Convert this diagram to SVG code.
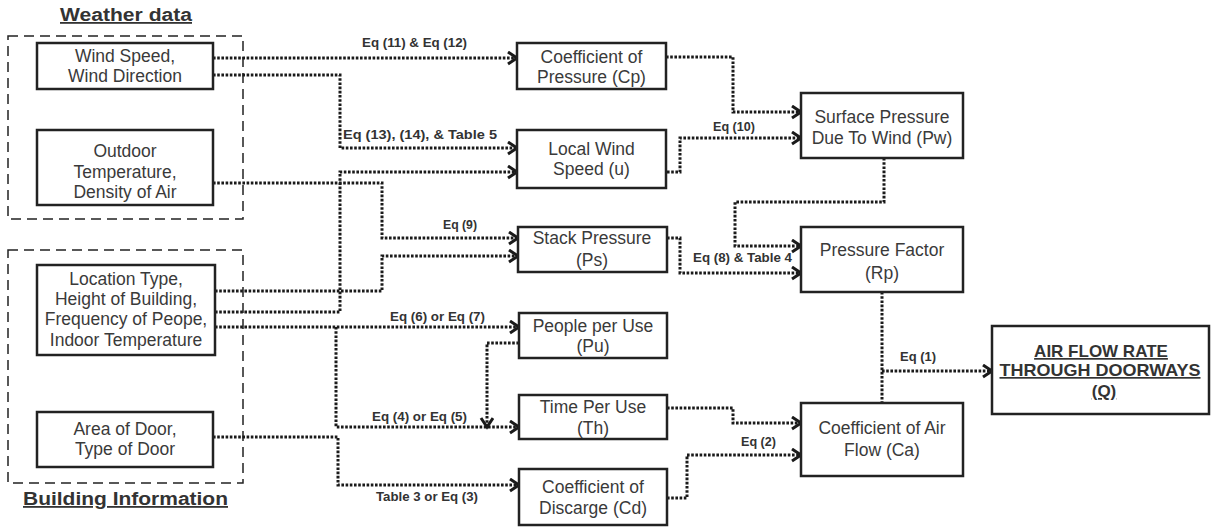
<svg xmlns="http://www.w3.org/2000/svg" width="1212" height="527" viewBox="0 0 1212 527">
<style>
.box{fill:#fff;stroke:#222;stroke-width:2.5}
.grp{fill:none;stroke:#222;stroke-width:1.5;stroke-dasharray:10 6}
.bt{font-family:"Liberation Sans",Arial,sans-serif;font-size:17.5px;fill:#3a3a3a;text-anchor:middle}
.lbl{font-family:"Liberation Sans",Arial,sans-serif;font-size:12px;font-weight:bold;fill:#333}
.ttl{font-family:"Liberation Sans",Arial,sans-serif;font-size:18px;font-weight:bold;fill:#333;text-decoration:underline}
.big{font-family:"Liberation Sans",Arial,sans-serif;font-size:17px;font-weight:bold;fill:#333;text-anchor:middle;text-decoration:underline}
.c{fill:none;stroke:#1a1a1a;stroke-width:3;stroke-dasharray:2.6 1.6}
.ca{fill:none;stroke:#1a1a1a;stroke-width:3;stroke-dasharray:2.6 1.6;marker-end:url(#ar)}
</style>
<defs>
<marker id="ar" markerUnits="userSpaceOnUse" markerWidth="14" markerHeight="16" refX="11" refY="7" orient="auto">
<path d="M2,1 L11,7 L2,13" fill="none" stroke="#1a1a1a" stroke-width="3"/>
</marker>
</defs>
<rect width="1212" height="527" fill="#fff"/>

<g id="weather-group">
<rect class="grp" x="8" y="36" width="235" height="183"/>
<text class="ttl" x="60" y="21" textLength="132" lengthAdjust="spacingAndGlyphs">Weather data</text>
</g>
<g id="building-group">
<rect class="grp" x="8" y="250" width="235" height="233"/>
<text class="ttl" x="23" y="505" textLength="205" lengthAdjust="spacingAndGlyphs">Building Information</text>
</g>

<g id="connectors">
<path class="ca" d="M213,58 H517"/>
<path class="ca" d="M213,75 H340 V148 H517"/>
<path class="ca" d="M213,183 H382 V238 H518"/>
<path class="ca" d="M215,312 H340 V172 H517"/>
<path class="ca" d="M215,291 H382 V256 H518"/>
<path class="ca" d="M215,327 H519"/>
<path class="ca" d="M336,327 V427 H519"/>
<path class="ca" d="M519,343 H487 V427"/>
<path class="ca" d="M213,437 H338 V485 H519"/>
<path class="ca" d="M666,57 H733 V112 H801"/>
<path class="ca" d="M667,172 H680 V138 H801"/>
<path class="ca" d="M667,238 H680 V273 H801"/>
<path class="ca" d="M884,158 V202 H735 V246 H801"/>
<path class="c" d="M882,292 V403"/>
<path class="ca" d="M882,371 H992"/>
<path class="ca" d="M667,408 H733 V423 H801"/>
<path class="ca" d="M667,498 H687 V455 H801"/>
<text class="lbl" x="362" y="47" textLength="105" lengthAdjust="spacingAndGlyphs">Eq (11) &amp; Eq (12)</text>
<text class="lbl" x="343" y="139" textLength="154" lengthAdjust="spacingAndGlyphs">Eq (13), (14), &amp; Table 5</text>
<text class="lbl" x="443" y="229" textLength="34" lengthAdjust="spacingAndGlyphs">Eq (9)</text>
<text class="lbl" x="390" y="321" textLength="95" lengthAdjust="spacingAndGlyphs">Eq (6) or Eq (7)</text>
<text class="lbl" x="372" y="421" textLength="95" lengthAdjust="spacingAndGlyphs">Eq (4) or Eq (5)</text>
<text class="lbl" x="376" y="501" textLength="102" lengthAdjust="spacingAndGlyphs">Table 3 or Eq (3)</text>
<text class="lbl" x="713" y="131" textLength="42" lengthAdjust="spacingAndGlyphs">Eq (10)</text>
<text class="lbl" x="693" y="262" textLength="99" lengthAdjust="spacingAndGlyphs">Eq (8) &amp; Table 4</text>
<text class="lbl" x="741" y="446" textLength="35" lengthAdjust="spacingAndGlyphs">Eq (2)</text>
<text class="lbl" x="900" y="361" textLength="36" lengthAdjust="spacingAndGlyphs">Eq (1)</text>
</g>

<g id="wind">
<rect class="box" x="37" y="43" width="176" height="46"/>
<text class="bt" x="125" y="62">Wind Speed,</text>
<text class="bt" x="125" y="82">Wind Direction</text>
</g>
<g id="outdoor">
<rect class="box" x="37" y="130" width="176" height="75"/>
<text class="bt" x="125" y="157">Outdoor</text>
<text class="bt" x="125" y="178">Temperature,</text>
<text class="bt" x="125" y="198">Density of Air</text>
</g>
<g id="location">
<rect class="box" x="37" y="265" width="178" height="90"/>
<text class="bt" x="126" y="285">Location Type,</text>
<text class="bt" x="126" y="305">Height of Building,</text>
<text class="bt" x="126" y="325">Frequency of Peope,</text>
<text class="bt" x="126" y="346">Indoor Temperature</text>
</g>
<g id="door">
<rect class="box" x="37" y="412" width="176" height="55"/>
<text class="bt" x="125" y="435">Area of Door,</text>
<text class="bt" x="125" y="455">Type of Door</text>
</g>
<g id="cp">
<rect class="box" x="517" y="43" width="149" height="46"/>
<text class="bt" x="591.5" y="63">Coefficient of</text>
<text class="bt" x="591.5" y="83">Pressure (Cp)</text>
</g>
<g id="localwind">
<rect class="box" x="517" y="130" width="149" height="58"/>
<text class="bt" x="591.5" y="155">Local Wind</text>
<text class="bt" x="591.5" y="175">Speed (u)</text>
</g>
<g id="stack">
<rect class="box" x="518" y="227" width="149" height="45"/>
<text class="bt" x="592" y="244">Stack Pressure</text>
<text class="bt" x="592" y="266">(Ps)</text>
</g>
<g id="people">
<rect class="box" x="519" y="313" width="148" height="45"/>
<text class="bt" x="593" y="332">People per Use</text>
<text class="bt" x="593" y="352">(Pu)</text>
</g>
<g id="time">
<rect class="box" x="519" y="395" width="148" height="44"/>
<text class="bt" x="593" y="413">Time Per Use</text>
<text class="bt" x="593" y="434">(Th)</text>
</g>
<g id="cd">
<rect class="box" x="519" y="469" width="148" height="56"/>
<text class="bt" x="593" y="493">Coefficient of</text>
<text class="bt" x="593" y="514">Discarge (Cd)</text>
</g>
<g id="surface">
<rect class="box" x="801" y="93" width="162" height="65"/>
<text class="bt" x="882" y="123">Surface Pressure</text>
<text class="bt" x="882" y="144">Due To Wind (Pw)</text>
</g>
<g id="rp">
<rect class="box" x="801" y="227" width="162" height="65"/>
<text class="bt" x="882" y="256">Pressure Factor</text>
<text class="bt" x="882" y="279">(Rp)</text>
</g>
<g id="ca">
<rect class="box" x="801" y="403" width="162" height="73"/>
<text class="bt" x="882" y="434">Coefficient of Air</text>
<text class="bt" x="882" y="456">Flow (Ca)</text>
</g>
<g id="airflow">
<rect class="box" x="992" y="326" width="217" height="88"/>
<text class="big" x="1101" y="357">AIR FLOW RATE</text>
<text class="big" x="1100" y="376" textLength="201" lengthAdjust="spacingAndGlyphs">THROUGH DOORWAYS</text>
<text class="big" x="1104" y="397">(Q)</text>
</g>
</svg>
